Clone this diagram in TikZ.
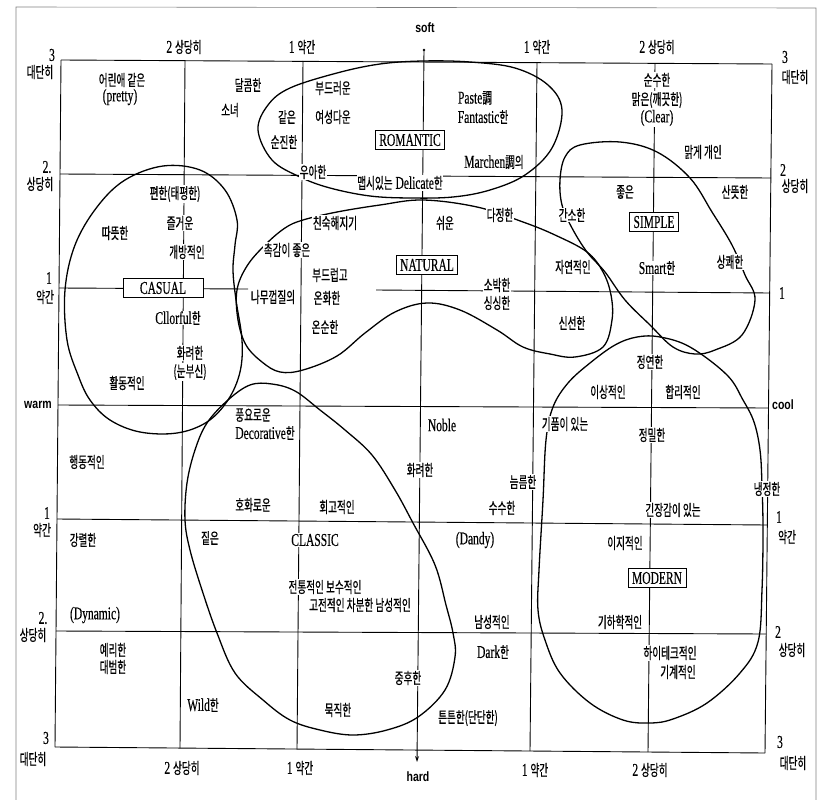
\documentclass[tikz,border=0pt]{standalone}
\usepackage{fontspec}
\setmainfont[FakeStretch=0.64,FakeBold=0.3]{Liberation Serif}
\newfontfamily\kr[FakeStretch=0.62,FakeBold=0.6]{Noto Sans CJK KR}
\newfontfamily\axf[FakeStretch=0.78]{Liberation Sans}
\usetikzlibrary{arrows.meta}
\newcommand\Kr[1]{{\kr\fontsize{15.5}{17}\selectfont #1}}
\begin{document}
\begin{tikzpicture}[x=1pt,y=-1pt,
  gridline/.style={line width=0.9pt},
  loopline/.style={line width=1.3pt},
  t/.style={fill=white, inner sep=0.6pt, font=\fontsize{18}{20}\selectfont},
  k/.style={fill=white, inner sep=0.6pt, font=\kr\fontsize{15.5}{17}\selectfont},
  kn/.style={inner sep=0.6pt, font=\kr\fontsize{15.5}{17}\selectfont},
  tn/.style={inner sep=0.6pt, font=\fontsize{18}{20}\selectfont},
  boxed/.style={draw, fill=white, line width=0.8pt, inner xsep=4pt, inner ysep=3.5pt, font=\fontsize{18}{20}\selectfont},
  ax/.style={inner sep=0.5pt, font=\axf\bfseries\fontsize{13.5}{15}\selectfont}]
\useasboundingbox (0,0) rectangle (822,800);
% outer frame
\draw[gray, line width=0.6pt] (16,800) -- (16,7) -- (816,8) -- (816,800);
% grid verticals
\draw[gridline] (61,60) -- (55,747);
\draw[gridline] (185,61) -- (180,748);
\draw[gridline] (303,61) -- (297,749);
\draw[gridline] (537,63) -- (530,751);
\draw[gridline] (655,64) -- (648,752);
\draw[gridline] (772,64) -- (765,753);
% grid horizontals
\draw[gridline] (61,60) -- (772,64);
\draw[gridline] (60,174) -- (771,178);
\draw[gridline] (59,288) -- (248,289);
\draw[gridline] (376,290) -- (770,293);
\draw[gridline] (58,405) -- (768,408);
\draw[gridline] (57,519) -- (767,525);
\draw[gridline] (56,631) -- (766,634);
\draw[gridline] (55,747) -- (765,753);
% soft-hard axis
\draw[gridline, -{Stealth[length=6pt,width=4pt]}] (424,50) -- (417,762);
\fill (424,50) circle (1.3pt);
% loops
\draw[loopline] plot[smooth cycle, tension=0.6] coordinates {(258,130) (268,105) (290,88) (337,73) (380,64) (423,61) (470,62) (515,68) (548,85) (562,110) (552,148) (525,175) (490,190) (453,197) (410,198) (370,196) (330,188) (300,177) (272,160)};
\draw[loopline] plot[smooth cycle, tension=0.6] coordinates {(163,166) (200,170) (225,190) (237,220) (235,245) (233,270) (236,300) (242,340) (240,372) (228,400) (207,422) (177,433) (140,432) (110,420) (90,400) (78,375) (67,340) (65,290) (75,245) (97,207) (125,180)};
\draw[loopline] plot[smooth cycle, tension=0.6] coordinates {(237,290) (247,266) (265,245) (285,228) (303,220) (337,212) (380,205) (423,200) (477,207) (523,222) (555,235) (587,252) (603,272) (611,295) (612,320) (603,347) (575,357) (550,354) (523,347) (497,330) (460,310) (427,303) (395,312) (365,333) (337,356) (303,370) (280,372) (262,362) (246,345) (238,320)};
\draw[loopline] plot[smooth cycle, tension=0.6] coordinates {(587,252) (572,228) (562,205) (560,180) (565,157) (580,145) (620,142) (657,152) (690,178) (712,212) (732,245) (745,275) (755,300) (742,335) (715,350) (695,354) (673,347) (650,325) (625,300) (605,272)};
\draw[loopline] plot[smooth cycle, tension=0.6] coordinates {(553,407) (568,383) (590,363) (615,345) (637,337) (660,337) (690,347) (727,375) (743,400) (754,422) (760,450) (762,485) (763,530) (762,590) (758,642) (740,673) (707,703) (673,719) (650,723) (623,720) (590,703) (560,673) (545,640) (538,610) (539,570) (543,500) (546,440)};
\draw[loopline] plot[smooth cycle, tension=0.6] coordinates {(207,423) (228,400) (250,385) (272,384) (295,391) (320,410) (345,430) (372,455) (395,490) (413,523) (435,565) (446,605) (453,633) (455,657) (445,690) (418,717) (387,730) (353,735) (320,730) (290,720) (263,700) (235,673) (217,633) (202,590) (190,550) (185,520) (187,483) (195,450)};
% axis labels
\node[ax] (soft) at (425,28) {soft};
\node[ax] (hard) at (418,777) {hard};
\node[ax] (warm) at (38,405) {warm};
\node[ax] (cool) at (783,405) {cool};
\node[tn] (tx1) at (184,47) {2\ \Kr{상당히}};
\node[tn] (tx2) at (302,47) {1\ \Kr{약간}};
\node[tn] (tx3) at (537,47) {1\ \Kr{약간}};
\node[tn] (tx4) at (657,47) {2\ \Kr{상당히}};
\node[tn] (bx1) at (182,768) {2\ \Kr{상당히}};
\node[tn] (bx2) at (300,768) {1\ \Kr{약간}};
\node[tn] (bx3) at (535,770) {1\ \Kr{약간}};
\node[tn] (bx4) at (650,770) {2\ \Kr{상당히}};
\node[tn] (l3) at (52,55) {3};
\node[kn] (l3k) at (40,72) {대단히};
\node[tn] (l2) at (47,167) {2.};
\node[kn] (l2k) at (40,184) {상당히};
\node[tn] (l1) at (49,278) {1};
\node[kn] (l1k) at (45,297) {약간};
\node[tn] (m1) at (47,513) {1};
\node[kn] (m1k) at (42,530) {약간};
\node[tn] (m2) at (43,618) {2.};
\node[kn] (m2k) at (33,635) {상당히};
\node[tn] (m3) at (46,738) {3};
\node[kn] (m3k) at (33,759) {대단히};
\node[tn] (r3) at (785,57) {3};
\node[kn] (r3k) at (795,77) {대단히};
\node[tn] (r2) at (783,170) {2};
\node[kn] (r2k) at (795,186) {상당히};
\node[tn] (r1) at (782,293) {1};
\node[tn] (s1) at (779,517) {1};
\node[kn] (s1k) at (787,537) {약간};
\node[tn] (s2) at (778,632) {2};
\node[kn] (s2k) at (792,650) {상당히};
\node[tn] (s3) at (780,742) {3};
\node[kn] (s3k) at (793,763) {대단히};
% interior words
\node[k] (w1) at (122,80) {어린애 같은};
\node[t] (w2) at (120,97) {(pretty)};
\node[k] (w3) at (248,85) {달콤한};
\node[k] (w4) at (230,110) {소녀};
\node[k] (w5) at (287,117) {같은};
\node[k] (w6) at (284,142) {순진한};
\node[k] (w7) at (333,88) {부드러운};
\node[k] (w8) at (333,117) {여성다운};
\node[boxed] (romantic) at (410,140) {ROMANTIC};
\node[t] (w9) at (475,98) {Paste\Kr{調}};
\node[t] (w10) at (483,117) {Fantastic\Kr{한}};
\node[t] (w11) at (494,162) {Marchen\Kr{調의}};
\node[k] (w12) at (313,172) {우아한};
\node[t] (w13) at (400,183) {\Kr{맵시있는}\ Delicate\Kr{한}};
\node[k] (w14) at (657,80) {순수한};
\node[k] (w15) at (657,100) {맑은(깨끗한)};
\node[t] (w16) at (657,118) {(Clear)};
\node[k] (w17) at (703,152) {맑게 개인};
\node[k] (w18) at (625,192) {좋은};
\node[k] (w19) at (735,192) {산뜻한};
\node[boxed] (simple) at (654,222) {SIMPLE};
\node[k] (w20) at (572,215) {간소한};
\node[k] (w21) at (573,267) {자연적인};
\node[t] (w22) at (657,268) {Smart\Kr{한}};
\node[k] (w23) at (730,262) {상쾌한};
\node[k] (w24) at (572,323) {신선한};
\node[k] (w25) at (650,362) {정연한};
\node[k] (w26) at (608,392) {이상적인};
\node[k] (w27) at (683,392) {합리적인};
\node[k] (w28) at (175,194) {편한(태평한)};
\node[k] (w29) at (180,223) {즐거운};
\node[k] (w30) at (115,233) {따뜻한};
\node[k] (w31) at (187,252) {개방적인};
\node[boxed, minimum width=80pt] (casual) at (163,288) {CASUAL};
\node[t] (w32) at (178,318) {Cllorful\Kr{한}};
\node[k] (w33) at (190,353) {화려한};
\node[k] (w34) at (190,372) {(눈부신)};
\node[k] (w35) at (127,383) {활동적인};
\node[k] (w36) at (273,297) {나무껍질의};
\node[k] (w37) at (287,250) {촉감이 좋은};
\node[k] (w38) at (335,223) {친숙해지기};
\node[k] (w39) at (330,275) {부드럽고};
\node[k] (w40) at (327,298) {온화한};
\node[k] (w41) at (325,327) {온순한};
\node[k] (w42) at (445,223) {쉬운};
\node[boxed] (natural) at (427,265) {NATURAL};
\node[k] (w43) at (500,215) {다정한};
\node[k] (w44) at (497,285) {소박한};
\node[k] (w45) at (497,303) {싱싱한};
\node[k] (w46) at (253,415) {풍요로운};
\node[t] (w47) at (265,433) {Decorative\Kr{한}};
\node[k] (w48) at (87,462) {행동적인};
\node[t] (w49) at (442,425) {Noble};
\node[k] (w50) at (420,470) {화려한};
\node[k] (w51) at (565,424) {기품이 있는};
\node[k] (w52) at (652,435) {정밀한};
\node[k] (w53) at (523,482) {늠름한};
\node[k] (w54) at (502,508) {수수한};
\node[k] (w55) at (253,505) {호화로운};
\node[k] (w56) at (337,507) {회고적인};
\node[k] (w57) at (673,510) {긴장감이 있는};
\node[k] (w58) at (767,489) {냉정한};
\node[k] (w59) at (83,540) {강렬한};
\node[k] (w60) at (210,538) {짙은};
\node[t] (classic) at (315,540) {CLASSIC};
\node[t] (w61) at (475,540) {(Dandy)};
\node[k] (w62) at (625,543) {이지적인};
\node[boxed] (modern) at (657,578) {MODERN};
\node[k] (w63) at (325,587) {전통적인 보수적인};
\node[k] (w64) at (360,605) {고전적인 차분한 남성적인};
\node[t] (w65) at (95,615) {(Dynamic)};
\node[k] (w66) at (492,622) {남성적인};
\node[k] (w67) at (620,622) {기하학적인};
\node[k] (w68) at (113,650) {예리한};
\node[k] (w69) at (113,667) {대범한};
\node[t] (w70) at (493,652) {Dark\Kr{한}};
\node[k] (w71) at (408,678) {중후한};
\node[k] (w72) at (670,653) {하이테크적인};
\node[k] (w73) at (678,672) {기계적인};
\node[t] (w74) at (203,705) {Wild\Kr{한}};
\node[k] (w75) at (338,710) {묵직한};
\node[k] (w76) at (468,718) {튼튼한(단단한)};
\end{tikzpicture}
\end{document}
